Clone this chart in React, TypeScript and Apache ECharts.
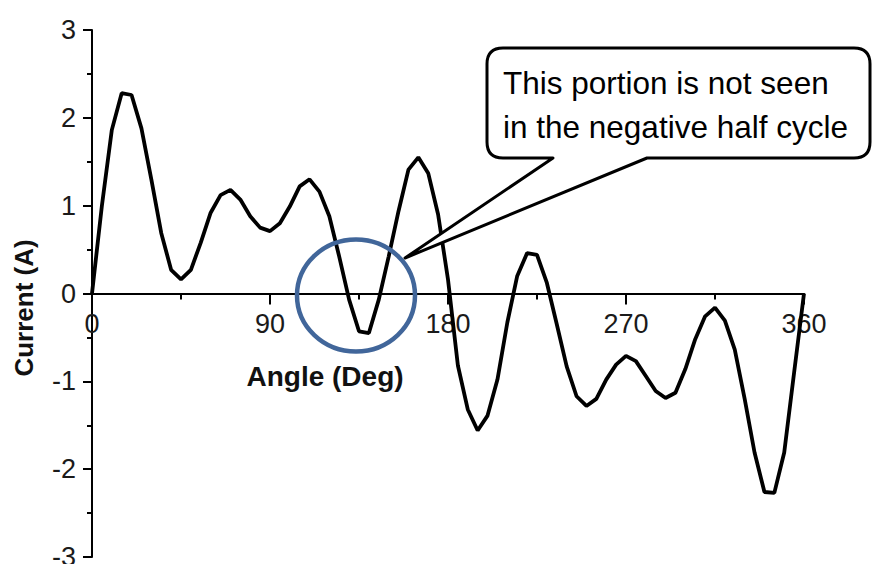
import React, { useEffect, useRef } from "react";
import * as echarts from "echarts";

const angles = [
  0, 5, 10, 15, 20, 25, 30, 35, 40, 45, 50, 55, 60, 65, 70, 75, 80, 85, 90,
  95, 100, 105, 110, 115, 120, 125, 130, 135, 140, 145, 150, 155, 160, 165, 170, 175, 180,
  185, 190, 195, 200, 205, 210, 215, 220, 225, 230, 235, 240, 245, 250, 255, 260, 265, 270,
  275, 280, 285, 290, 295, 300, 305, 310, 315, 320, 325, 330, 335, 340, 345, 350, 355, 360,
];

const current = [
  0, 1.0, 1.86, 2.28, 2.26, 1.88, 1.3, 0.69, 0.27, 0.16, 0.27, 0.58, 0.92, 1.12, 1.18, 1.07, 0.88, 0.75, 0.71,
  0.8, 0.99, 1.22, 1.3, 1.16, 0.88, 0.42, -0.07, -0.43, -0.45, -0.07, 0.42, 0.94, 1.41, 1.55, 1.37, 0.9, 0.16,
  -0.82, -1.32, -1.56, -1.39, -0.98, -0.33, 0.2, 0.46, 0.44, 0.12, -0.35, -0.83, -1.17, -1.28, -1.2, -0.98, -0.81, -0.71,
  -0.77, -0.94, -1.11, -1.19, -1.13, -0.86, -0.52, -0.26, -0.16, -0.31, -0.64, -1.2, -1.81, -2.26, -2.27, -1.81, -0.9, 0,
];

const xTicks = { min: 0, max: 360, interval: 90 };
const yTicks = { min: -3, max: 3, interval: 1 };

const xName = "Angle (Deg)";
const yName = "Current (A)";
const calloutLines = ["This portion is not seen", "in the negative half cycle"];

const FONT = "'Liberation Sans', Arial, Helvetica, sans-serif";

const GRID = { left: 92, right: 69, top: 30, bottom: 7 };
const H = 564;

export default function App() {
  const ref = useRef<HTMLDivElement>(null);

  useEffect(() => {
    if (!ref.current) return;
    const d =
      "M503,48 L854,48 Q870,48 870,64 L870,142 Q870,158 854,158 L647,158 L405,258 L553,158 L503,158 Q487,158 487,142 L487,64 Q487,48 503,48 Z";
    echarts.graphic.registerShape("callout", echarts.graphic.extendPath(d, {}) as any);

    const chart = echarts.init(ref.current, null, { renderer: "svg" });
    const data = angles.map((a, i) => [a, current[i]]);
    // x axis sits on the zero line
    const plotH = H - GRID.top - GRID.bottom;
    const zeroOffset = -plotH * (0 - yTicks.min) / (yTicks.max - yTicks.min);
    chart.setOption({
      animation: false,
      backgroundColor: "#ffffff",
      grid: { ...GRID, containLabel: false, outerBoundsMode: "none" },
      xAxis: {
        type: "value",
        min: xTicks.min,
        max: xTicks.max,
        interval: xTicks.interval,
        position: "bottom",
        offset: zeroOffset,
        axisLine: { show: true, onZero: false, lineStyle: { color: "#000", width: 2 } },
        axisTick: { show: true, length: 11, lineStyle: { color: "#000", width: 2 } },
        minorTick: { show: true, splitNumber: 2, length: 6, lineStyle: { color: "#000", width: 2 } },
        splitLine: { show: false },
        minorSplitLine: { show: false },
        axisLabel: { fontSize: 27, color: "#1a1a1a", fontFamily: FONT, margin: 17 },
      },
      yAxis: {
        type: "value",
        min: yTicks.min,
        max: yTicks.max,
        interval: yTicks.interval,
        axisLine: { show: true, onZero: false, lineStyle: { color: "#000", width: 2 } },
        axisTick: { show: true, length: 9, lineStyle: { color: "#000", width: 2 } },
        minorTick: { show: true, splitNumber: 2, length: 5, lineStyle: { color: "#000", width: 2 } },
        splitLine: { show: false },
        minorSplitLine: { show: false },
        axisLabel: { fontSize: 27, color: "#1a1a1a", fontFamily: FONT, margin: 16 },
      },
      series: [
        {
          type: "line",
          data,
          showSymbol: false,
          smooth: false,
          lineStyle: { color: "#000", width: 3.8 },
          z: 3,
        },
      ],
      graphic: [
        {
          type: "text",
          x: 325,
          y: 376,
          z: 10,
          style: {
            text: xName,
            font: `bold 28px ${FONT}`,
            fill: "#111",
            align: "center",
            verticalAlign: "middle",
          },
        },
        {
          type: "text",
          x: 24,
          y: 308,
          rotation: Math.PI / 2,
          z: 10,
          style: {
            text: yName,
            font: `bold 26px ${FONT}`,
            fill: "#111",
            align: "center",
            verticalAlign: "middle",
          },
        },
        {
          type: "ellipse",
          z: 20,
          shape: { cx: 356, cy: 295.5, rx: 59, ry: 56 },
          style: { fill: "none", stroke: "#41669a", lineWidth: 4.5 },
        },
        {
          type: "callout",
          x: 0,
          y: 0,
          z: 20,
          style: { fill: "#ffffff", stroke: "#000", lineWidth: 3, lineJoin: "round" },
        },
        {
          type: "text",
          x: 503,
          y: 83,
          z: 21,
          style: {
            text: calloutLines[0],
            font: `31.5px ${FONT}`,
            fill: "#000",
            align: "left",
            verticalAlign: "middle",
          },
        },
        {
          type: "text",
          x: 503,
          y: 126.5,
          z: 21,
          style: {
            text: calloutLines[1],
            font: `31.5px ${FONT}`,
            fill: "#000",
            align: "left",
            verticalAlign: "middle",
          },
        },
      ],
    });
    return () => chart.dispose();
  }, []);

  return (
    <div
      ref={ref}
      style={{ position: "fixed", left: 0, top: 0, width: 873, height: H, background: "#fff" }}
    />
  );
}
